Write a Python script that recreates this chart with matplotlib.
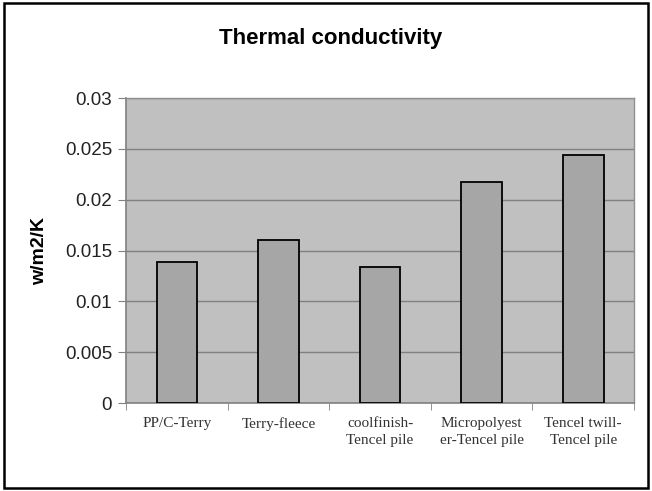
import matplotlib
import matplotlib.pyplot as plt
from matplotlib.patches import Rectangle
from matplotlib.ticker import FixedLocator, NullFormatter

matplotlib.use("Agg")

fabrics = ["PP/C-Terry", "Terry-fleece", "coolfinish-\nTencel pile",
           "Micropolyest\ner-Tencel pile", "Tencel twill-\nTencel pile"]
conductivity = [0.0139, 0.0160, 0.0134, 0.0217, 0.0244]
y_ticks = [0, 0.005, 0.01, 0.015, 0.02, 0.025, 0.03]
y_tick_labels = ["0", "0.005", "0.01", "0.015", "0.02", "0.025", "0.03"]


def plot_conductivity():
    fig = plt.figure(figsize=(6.52, 4.91), dpi=100)
    fig.patch.set_facecolor("white")
    fig.patches.append(Rectangle((0.006, 0.006), 0.988, 0.988, transform=fig.transFigure,
                                 fill=False, edgecolor="black", linewidth=1.8))

    ax = fig.add_axes([0.1933, 0.1792, 0.7791, 0.6212])
    ax.set_facecolor("#c0c0c0")

    positions = range(len(fabrics))
    ax.bar(positions, conductivity, width=0.4, color="#a6a6a6",
           edgecolor="black", linewidth=1.3, zorder=3)

    ax.set_xlim(-0.5, len(fabrics) - 0.5)
    ax.set_ylim(0, 0.03)
    ax.set_yticks(y_ticks)
    ax.set_yticklabels(y_tick_labels, fontsize=13.5, family="Liberation Sans", color="#222222")
    ax.yaxis.grid(True, color="#808080", linewidth=1.0, zorder=1)

    ax.set_xticks(list(positions))
    ax.set_xticklabels(fabrics, fontsize=11, family="Liberation Serif", color="#333333",
                       linespacing=1.45)
    ax.tick_params(axis="x", which="major", length=0, pad=10)
    ax.xaxis.set_minor_locator(FixedLocator([i + 0.5 for i in range(len(fabrics) - 1)] + [-0.5, len(fabrics) - 0.5]))
    ax.xaxis.set_minor_formatter(NullFormatter())
    ax.tick_params(axis="x", which="minor", length=5, color="#808080")
    ax.tick_params(axis="y", length=6, color="#808080", pad=4)

    for side in ["left", "bottom"]:
        ax.spines[side].set_color("#808080")
        ax.spines[side].set_linewidth(1.2)
    for side in ["top", "right"]:
        ax.spines[side].set_color("#909090")
        ax.spines[side].set_linewidth(1.0)

    ax.set_ylabel("w/m2/K", fontsize=14, fontweight="bold", family="Liberation Sans", labelpad=12)
    fig.text(0.507, 0.922, "Thermal conductivity", ha="center", va="center",
             fontsize=16, fontweight="bold", family="Liberation Sans")

    plt.savefig("out.png", dpi=100)


if __name__ == "__main__":
    plot_conductivity()
